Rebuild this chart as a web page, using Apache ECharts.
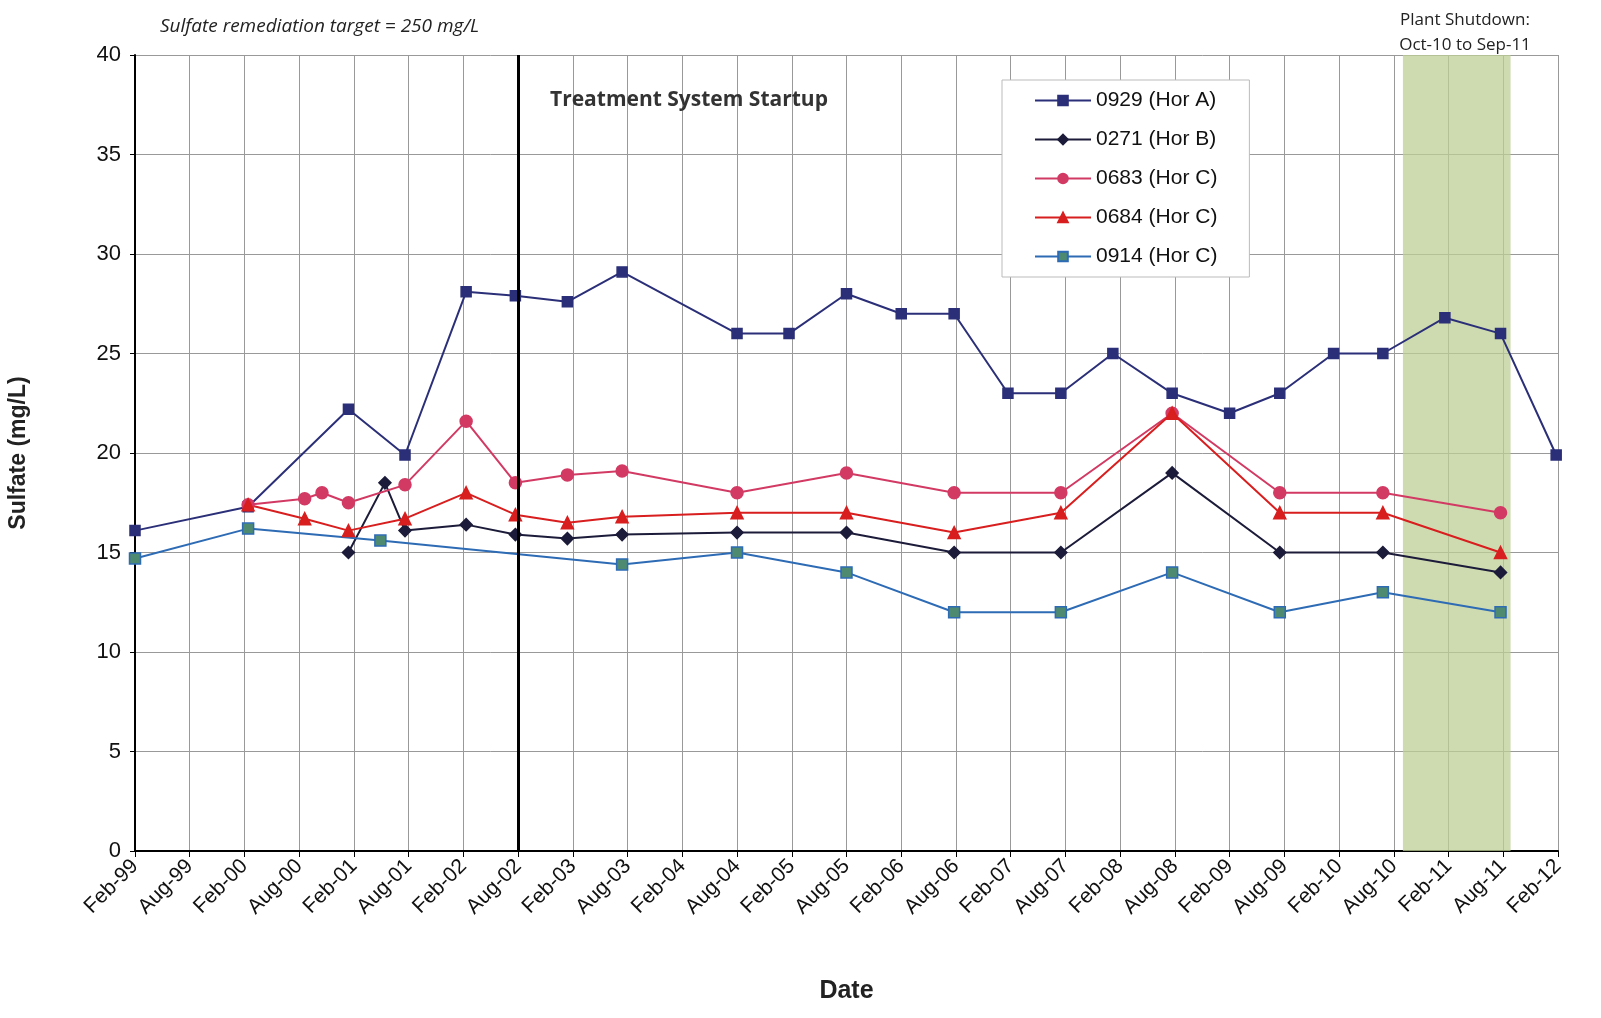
<!DOCTYPE html>
<html>
<head>
<meta charset="utf-8">
<title>Sulfate</title>
<script src="https://cdn.jsdelivr.net/npm/echarts@6/dist/echarts.min.js"></script>
<style>html,body{margin:0;background:#fff}#main{width:1601px;height:1018px}</style>
</head>
<body>
<div id="main"></div>
<script>
// x values: months since Feb-99
var horA = [[0,16.1],[12.4,17.3],[23.4,22.2],[29.6,19.9],[36.3,28.1],[41.7,27.9],[47.4,27.6],[53.4,29.1],[66,26],[71.7,26],[78,28],[84,27],[89.8,27],[95.7,23],[101.5,23],[107.2,25],[113.7,23],[120,22],[125.5,23],[131.4,25],[136.8,25],[143.6,26.8],[149.7,26],[155.8,19.9]];
var horB = [[23.4,15],[27.4,18.5],[29.6,16.1],[36.3,16.4],[41.7,15.9],[47.4,15.7],[53.4,15.9],[66,16],[78,16],[89.8,15],[101.5,15],[113.7,19],[125.5,15],[136.8,15],[149.7,14]];
var c0683 = [[12.4,17.4],[18.6,17.7],[20.5,18],[23.4,17.5],[29.6,18.4],[36.3,21.6],[41.7,18.5],[47.4,18.9],[53.4,19.1],[66,18],[78,19],[89.8,18],[101.5,18],[113.7,22],[125.5,18],[136.8,18],[149.7,17]];
var c0684 = [[12.4,17.4],[18.6,16.7],[23.4,16.1],[29.6,16.7],[36.3,18],[41.7,16.9],[47.4,16.5],[53.4,16.8],[66,17],[78,17],[89.8,16],[101.5,17],[113.7,22],[125.5,17],[136.8,17],[149.7,15]];
var c0914 = [[0,14.7],[12.4,16.2],[26.9,15.6],[53.4,14.4],[66,15],[78,14],[89.8,12],[101.5,12],[113.7,14],[125.5,12],[136.8,13],[149.7,12]];
var startup = 42;
var shutdown = [139, 150.8];
var monthNames = ['Jan','Feb','Mar','Apr','May','Jun','Jul','Aug','Sep','Oct','Nov','Dec'];

function label(m) {
    var t = 1999 * 12 + 1 + m;
    var y = Math.floor(t / 12) % 100;
    return monthNames[t % 12] + '-' + (y < 10 ? '0' + y : y);
}
function ser(name, data, color, symbol, size, fill) {
    return {name: name, type: 'line', data: data, symbol: symbol, symbolSize: size,
        lineStyle: {color: color, width: 2}, itemStyle: {color: fill || color, borderColor: color, borderWidth: 1.5}};
}
var chart = echarts.init(document.getElementById('main'));
var series = [
    ser('0929 (Hor A)', horA, '#2b2f78', 'rect', 10),
    ser('0271 (Hor B)', horB, '#1c1c3a', 'diamond', 12),
    ser('0683 (Hor C)', c0683, '#d23a64', 'circle', 12),
    ser('0684 (Hor C)', c0684, '#d81e1e', 'triangle', 12),
    ser('0914 (Hor C)', c0914, '#2e6bb5', 'rect', 11, '#4e8a70')
];
series[0].markArea = {silent: true, itemStyle: {color: 'rgba(190,205,150,0.75)'}, data: [[{xAxis: shutdown[0]}, {xAxis: shutdown[1]}]]};
series[0].markLine = {silent: true, symbol: 'none', label: {show: false}, lineStyle: {color: '#000', width: 3, type: 'solid'}, data: [{xAxis: startup}]};
chart.setOption({
    animation: false,
    grid: {left: 135, right: 43, top: 55, bottom: 167, containLabel: false, outerBoundsMode: 'none'},
    textStyle: {fontFamily: 'Liberation Sans'},
    title: [
        {text: 'Sulfate remediation target = 250 mg/L', left: 155, top: 12, textStyle: {fontSize: 19, fontStyle: 'italic', fontWeight: 'normal', color: '#222', fontFamily: 'Open Sans'}},
        {text: 'Plant Shutdown:\nOct-10 to Sep-11', left: 1460, top: 3, textAlign: 'center', textStyle: {fontSize: 17, fontWeight: 'normal', color: '#222', lineHeight: 25, fontFamily: 'Open Sans'}},
        {text: 'Treatment System Startup', left: 545, top: 85, textStyle: {fontSize: 21, fontWeight: 'bold', color: '#333', fontFamily: 'Open Sans'}}
    ],
    legend: {orient: 'vertical', left: 1002, top: 80, padding: [10, 32, 10, 32],
        backgroundColor: '#fff', borderColor: '#bbb', borderWidth: 1, itemGap: 18, itemWidth: 56, itemHeight: 12,
        textStyle: {fontSize: 21, color: '#111'},
        data: series.map(function (s) { return s.name; })},
    xAxis: {type: 'value', min: 0, max: 156, interval: 6, name: 'Date', nameLocation: 'middle', nameGap: 128,
        nameTextStyle: {fontSize: 25, fontWeight: 'bold', color: '#222'},
        axisLine: {lineStyle: {color: '#000', width: 2}}, axisTick: {show: true, length: 6, lineStyle: {color: '#000'}},
        splitLine: {lineStyle: {color: '#999'}},
        axisLabel: {rotate: 45, fontSize: 21, color: '#111', formatter: label, margin: 12}},
    yAxis: {type: 'value', min: 0, max: 40, interval: 5, name: 'Sulfate (mg/L)', nameLocation: 'middle', nameGap: 105,
        nameTextStyle: {fontSize: 23, fontWeight: 'bold', color: '#222'},
        axisLine: {show: true, lineStyle: {color: '#000', width: 2}}, axisTick: {show: true, lineStyle: {color: '#000'}},
        splitLine: {lineStyle: {color: '#999'}},
        axisLabel: {fontSize: 22, color: '#111', margin: 14}},
    series: series
});
</script>
</body>
</html>
